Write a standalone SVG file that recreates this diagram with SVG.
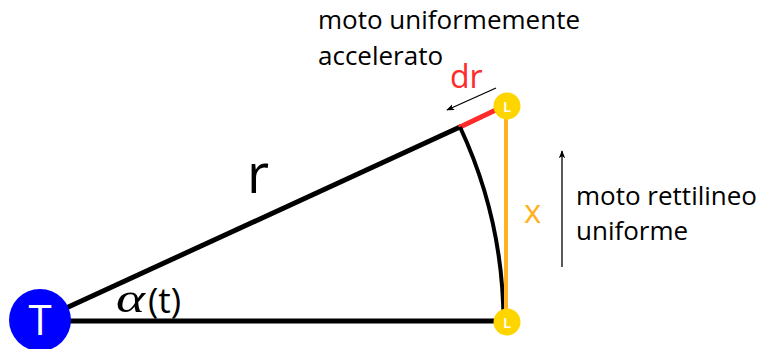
<svg xmlns="http://www.w3.org/2000/svg" width="763" height="349" viewBox="0 0 763 349">
<defs>
<style>
.lbl{font-family:"Open Sans","Liberation Sans",sans-serif;fill:#000}
.ltr{font-family:"Open Sans","Liberation Sans",sans-serif;fill:#fff;text-anchor:middle}
.edge{fill:none;stroke:#000;stroke-width:5;stroke-linecap:butt}
</style>
<marker id="ah" viewBox="0 0 10 10" refX="9" refY="5" markerWidth="8" markerHeight="8" markerUnits="userSpaceOnUse" orient="auto">
<path d="M0,1 L10,5 L0,9 L2.5,5 z" fill="#000"/>
</marker>
</defs>
<rect width="763" height="349" fill="#fff"/>
<g id="connectors">
<line class="edge" x1="40" y1="321" x2="506" y2="321"/>
<line class="edge" x1="40" y1="320" x2="461" y2="126.5"/>
<line x1="459" y1="127.5" x2="500" y2="108" stroke="#FF2A2A" stroke-width="5"/>
<path d="M460 127 A463 463 0 0 1 503.5 322" fill="none" stroke="#000" stroke-width="4"/>
<line x1="506" y1="106" x2="506" y2="322" stroke="#FFB21E" stroke-width="4"/>
<line x1="496" y1="88" x2="447" y2="110" stroke="#000" stroke-width="1.3" marker-end="url(#ah)"/>
<line x1="562" y1="267" x2="562" y2="151" stroke="#000" stroke-width="1.3" marker-end="url(#ah)"/>
</g>
<g id="node-T">
<circle cx="40" cy="320" r="31" fill="#0000FF"/>
<text class="ltr" x="40" y="335" font-size="42">T</text>
</g>
<g id="node-L-top">
<circle cx="507" cy="106" r="13.5" fill="#FFD500"/>
<text class="ltr" x="507" y="111.5" font-size="15" font-weight="600">L</text>
</g>
<g id="node-L-bottom">
<circle cx="507" cy="322" r="13.5" fill="#FFD500"/>
<text class="ltr" x="507" y="328" font-size="15" font-weight="600">L</text>
</g>
<g id="labels">
<text class="lbl" x="318" y="29" font-size="26">moto uniformemente</text>
<text class="lbl" x="318" y="65" font-size="26">accelerato</text>
<text class="lbl" x="450" y="88" font-size="32" style="fill:#FF2A2A">dr</text>
<text class="lbl" x="247" y="193" font-size="54">r</text>
<text class="lbl" x="524" y="223" font-size="33" style="fill:#FFB21E">x</text>
<text class="lbl" x="576" y="205" font-size="26">moto rettilineo</text>
<text class="lbl" x="576" y="240" font-size="26">uniforme</text>
<text x="116" y="312" font-size="42" font-style="italic" font-family="'Liberation Serif','DejaVu Serif',serif" textLength="29" lengthAdjust="spacingAndGlyphs">α</text>
<text class="lbl" x="148" y="313" font-size="35">(t)</text>
</g>
</svg>
